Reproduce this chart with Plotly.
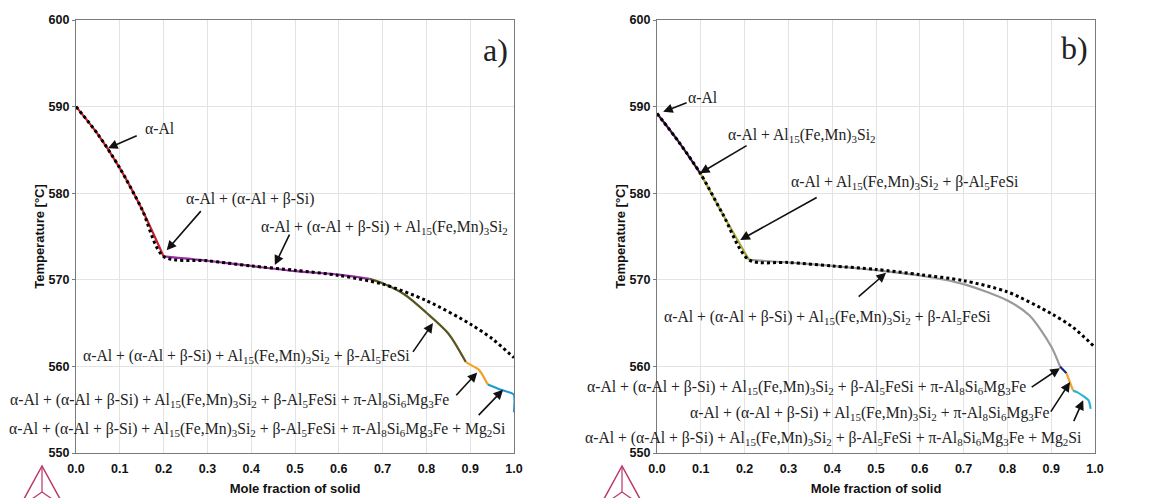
import plotly.graph_objects as go

# ---------------- data ----------------
# Panel a) solidification path segments
a_red_x = [0.0, 0.05, 0.10, 0.15, 0.20]
a_red_t = [590.0, 586.8, 582.9, 578.2, 572.7]
a_pur_x = [0.20, 0.30, 0.40, 0.50, 0.60, 0.67]
a_pur_t = [572.7, 572.2, 571.6, 571.0, 570.6, 570.1]
a_olv_x = [0.67, 0.70, 0.75, 0.80, 0.85, 0.89]
a_olv_t = [570.1, 569.6, 568.3, 566.2, 563.8, 560.5]
a_org_x = [0.89, 0.90, 0.92, 0.94]
a_org_t = [560.5, 560.2, 559.6, 557.9]
a_blu_x = [0.94, 0.97, 0.995, 1.0, 1.0]
a_blu_t = [557.9, 557.3, 556.9, 556.7, 554.7]
a_dot_x = [0.0, 0.05, 0.10, 0.15, 0.20, 0.30, 0.40, 0.50, 0.60, 0.70, 0.80, 0.90, 0.95, 1.0]
a_dot_t = [590.0, 586.8, 582.9, 578.2, 572.7, 572.2, 571.6, 571.1, 570.5, 569.5, 567.6, 564.9, 563.2, 561.0]

# Panel b) solidification path segments
b_s1_x = [0.0, 0.05, 0.10]
b_s1_t = [589.2, 585.9, 582.2]
b_s2_x = [0.10, 0.15, 0.21]
b_s2_t = [582.2, 577.6, 572.3]
b_s3_x = [0.21, 0.30, 0.40, 0.50, 0.60, 0.70, 0.80, 0.85, 0.90, 0.92]
b_s3_t = [572.3, 572.0, 571.6, 571.1, 570.5, 569.5, 567.6, 565.9, 562.3, 560.0]
b_s4_x = [0.92, 0.935]
b_s4_t = [560.0, 559.2]
b_s5_x = [0.935, 0.95]
b_s5_t = [559.2, 557.2]
b_s6_x = [0.95, 0.96, 0.975, 0.985, 0.99]
b_s6_t = [557.2, 557.0, 556.5, 556.1, 555.1]
b_dot_x = [0.0, 0.05, 0.10, 0.15, 0.21, 0.30, 0.40, 0.50, 0.60, 0.70, 0.80, 0.90, 0.95, 1.0]
b_dot_t = [589.2, 585.9, 582.2, 577.6, 572.3, 572.0, 571.6, 571.2, 570.6, 569.9, 568.6, 566.1, 564.5, 562.2]

x_ticks = [0.0, 0.1, 0.2, 0.3, 0.4, 0.5, 0.6, 0.7, 0.8, 0.9, 1.0]
y_ticks = [550, 560, 570, 580, 590, 600]

A = "α-Al"
AB = "(α-Al + β-Si)"
AL15 = "Al<sub>15</sub>(Fe,Mn)<sub>3</sub>Si<sub>2</sub>"
BETA = "β-Al<sub>5</sub>FeSi"
PI = "π-Al<sub>8</sub>Si<sub>6</sub>Mg<sub>3</sub>Fe"
MG = "Mg<sub>2</sub>Si"

# label texts, positions (text centre) and arrows (tail -> head) in data units
a_labels = [
    (A, 0.192, 587.5, 0.142, 586.7, 0.073, 585.2),
    (f"{A} + {AB}", 0.397, 579.3, 0.288, 578.1, 0.207, 573.4),
    (f"{A} + {AB} + {AL15}", 0.705, 576.0, 0.489, 575.4, 0.454, 571.7),
    (f"{A} + {AB} + {AL15} + {BETA}", 0.39, 561.2, 0.767, 561.5, 0.815, 565.0),
    (f"{A} + {AB} + {AL15} + {BETA} + {PI}", 0.35, 556.1, 0.865, 556.5, 0.916, 559.3),
    (f"{A} + {AB} + {AL15} + {BETA} + {PI} + {MG}", 0.415, 552.7, 0.916, 554.2, 0.975, 557.3),
]
b_labels = [
    (A, 0.105, 591.0, 0.071, 590.5, 0.014, 589.4),
    (f"{A} + {AL15}", 0.331, 586.7, 0.208, 585.6, 0.098, 582.3),
    (f"{A} + {AL15} + {BETA}", 0.566, 581.2, 0.368, 579.6, 0.19, 574.6),
    (f"{A} + {AB} + {AL15} + {BETA}", 0.39, 565.7, 0.457, 567.9, 0.523, 570.8),
    (f"{A} + {AB} + {AL15} + {BETA} + {PI}", 0.342, 557.6, 0.852, 557.5, 0.92, 559.8),
    (f"{A} + {AB} + {AL15} + {PI}", 0.486, 554.6, 0.897, 554.6, 0.943, 558.2),
    (f"{A} + {AB} + {AL15} + {BETA} + {PI} + {MG}", 0.402, 551.7, 0.95, 553.5, 0.973, 556.1),
]

# ---------------- figure ----------------
fig = go.Figure()

def seg(x, y, color, xa, ya, width=2.2):
    fig.add_trace(go.Scatter(x=x, y=y, mode="lines",
                             line=dict(color=color, width=width, shape="spline", smoothing=0.8),
                             xaxis=xa, yaxis=ya, showlegend=False, hoverinfo="skip"))

def dotted(x, y, xa, ya):
    fig.add_trace(go.Scatter(x=x, y=y, mode="lines",
                             line=dict(color="black", width=3, dash="dot", shape="spline", smoothing=0.8),
                             xaxis=xa, yaxis=ya, showlegend=False, hoverinfo="skip"))

# panel a
seg(a_red_x, a_red_t, "#c8202a", "x", "y")
seg(a_pur_x, a_pur_t, "#9a2fa6", "x", "y")
seg(a_olv_x, a_olv_t, "#5a5520", "x", "y")
seg(a_org_x, a_org_t, "#f2a227", "x", "y")
seg(a_blu_x, a_blu_t, "#1f98d4", "x", "y")
dotted(a_dot_x, a_dot_t, "x", "y")

# panel b
seg(b_s1_x, b_s1_t, "#3a0f45", "x2", "y2")
seg(b_s2_x, b_s2_t, "#a7a83a", "x2", "y2")
seg(b_s3_x, b_s3_t, "#9a9a9a", "x2", "y2")
seg(b_s4_x, b_s4_t, "#1b2a80", "x2", "y2")
seg(b_s5_x, b_s5_t, "#f2a227", "x2", "y2")
seg(b_s6_x, b_s6_t, "#2bb3d8", "x2", "y2")
dotted(b_dot_x, b_dot_t, "x2", "y2")

# the page body adds an 8 px offset; size the figure to fill the window
OFF = 8
W, H = 1160 - OFF, 498 - OFF
SERIF = "Times New Roman, Liberation Serif, serif"
SANS = "Arial, Liberation Sans, sans-serif"
ann_font = dict(family=SERIF, size=15.7, color="#222")
annotations = []
for labels, xr, yr in [(a_labels, "x", "y"), (b_labels, "x2", "y2")]:
    for txt, tx, ty, ax, ay, hx, hy in labels:
        annotations.append(dict(x=tx, y=ty, xref=xr, yref=yr, text=txt, showarrow=False,
                                font=ann_font, xanchor="center", yanchor="middle"))
        annotations.append(dict(x=hx, y=hy, xref=xr, yref=yr, ax=ax, ay=ay, axref=xr, ayref=yr,
                                text="", showarrow=True, arrowhead=2, arrowsize=1.2,
                                arrowwidth=1.6, arrowcolor="#111"))

annotations.append(dict(x=0.957, y=596.5, xref="x", yref="y", text="a)", showarrow=False,
                        font=dict(family=SERIF, size=32, color="#222")))
annotations.append(dict(x=0.954, y=596.8, xref="x2", yref="y2", text="b)", showarrow=False,
                        font=dict(family=SERIF, size=32, color="#222")))

tick_font = dict(family=SANS, size=12.5, color="#111")
title_font = dict(family=SANS, size=13, color="#111")
axis_common = dict(range=[0, 1], tickvals=x_ticks,
                   ticktext=[f"<b>{v:.1f}</b>" for v in x_ticks], showgrid=True,
                   gridcolor="#e3e3e3", gridwidth=1, showline=True, linecolor="#7a7a7a",
                   linewidth=1.3, mirror=True, ticks="outside", ticklen=4,
                   tickcolor="rgba(0,0,0,0)", zeroline=False, automargin=False,
                   tickfont=tick_font,
                   title=dict(text="<b>Mole fraction of solid</b>", standoff=8, font=title_font))
yaxis_common = dict(range=[550, 600], tickvals=y_ticks, ticktext=[f"<b>{v}</b>" for v in y_ticks],
                    showgrid=True, gridcolor="#e3e3e3",
                    gridwidth=1, showline=True, linecolor="#7a7a7a", linewidth=1.3, mirror=True,
                    ticks="outside", ticklen=3, tickcolor="#7a7a7a", zeroline=False, automargin=False,
                    tickfont=tick_font,
                    title=dict(text="<b>Temperature [°C]</b>", standoff=0, font=title_font))

def fx(px):
    return (px - OFF) / W

def fy(py):
    return 1 - (py - OFF) / H

y_dom = [fy(453), fy(20)]
fig.update_layout(
    width=W, height=H,
    margin=dict(l=0, r=0, t=0, b=0, autoexpand=False),
    paper_bgcolor="white", plot_bgcolor="white",
    showlegend=False,
    xaxis=dict(domain=[fx(76), fx(514)], anchor="y", **axis_common),
    yaxis=dict(domain=y_dom, anchor="x", **yaxis_common),
    xaxis2=dict(domain=[fx(657), fx(1095)], anchor="y2", **axis_common),
    yaxis2=dict(domain=y_dom, anchor="x2", **yaxis_common),
    annotations=annotations,
)

# Thermo-Calc style logo (decorative) below each panel
logo_col = "#b8386a"
shapes = []
for cx in [42, 622]:
    apex = (cx, 466)
    bl = (cx - 23, 508)
    br = (cx + 23, 508)
    cen = (cx, 492)
    def P(p):
        return (fx(p[0]), fy(p[1]))
    pts = [apex, bl, br]
    path = "M {} {} L {} {} L {} {} Z".format(*P(apex), *P(bl), *P(br))
    shapes.append(dict(type="path", path=path, xref="paper", yref="paper",
                       line=dict(color=logo_col, width=1.5)))
    for v in pts:
        a, b = P(v), P(cen)
        shapes.append(dict(type="line", x0=a[0], y0=a[1], x1=b[0], y1=b[1], xref="paper", yref="paper",
                           line=dict(color=logo_col, width=1.2)))
fig.update_layout(shapes=shapes)

fig.write_html("out.html")
